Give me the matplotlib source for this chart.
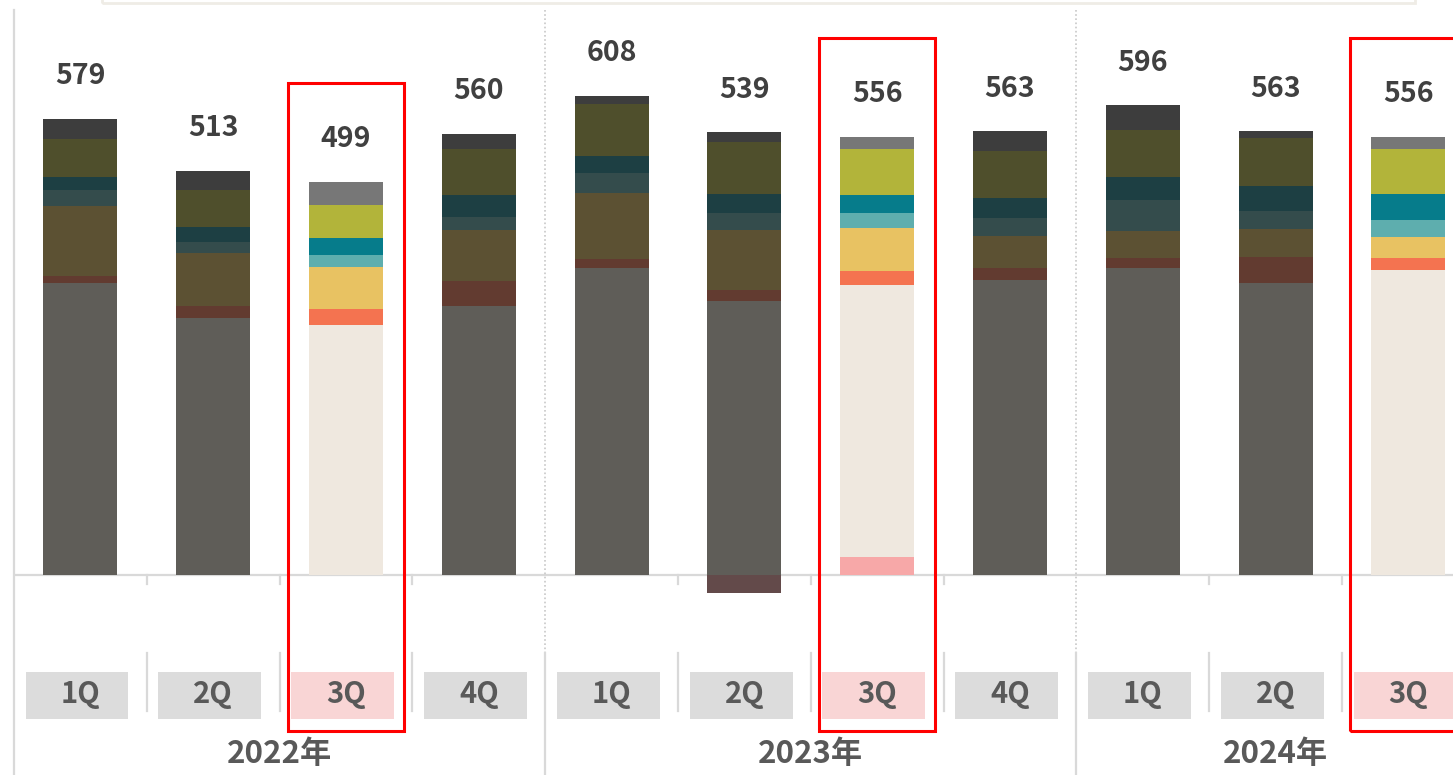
import numpy as np
import matplotlib
matplotlib.use('Agg')
import matplotlib.pyplot as plt
from matplotlib.patches import Rectangle

plt.rcParams['font.family'] = ['Noto Sans CJK JP', 'DejaVu Sans']

# ---- data ----
quarters = ['1Q', '2Q', '3Q', '4Q', '1Q', '2Q', '3Q', '4Q', '1Q', '2Q', '3Q']
years = ['2022年', '2023年', '2024年']
year_of_bar = [0, 0, 0, 0, 1, 1, 1, 1, 2, 2, 2]
totals = [579, 513, 499, 560, 608, 539, 556, 563, 596, 563, 556]

# stacked segments, bottom -> top
seg_pink = [0, 0, 0, 0, 0, -23, 23, 0, 0, 0, 0]
seg_cream = [370, 326, 317, 341, 390, 348, 345, 374, 390, 371, 387]
seg_orange = [10, 16, 20, 32, 11, 14, 18, 15, 12, 32, 15]
seg_yellow = [88, 67, 54, 65, 84, 76, 54, 41, 34, 36, 27]
seg_lteal = [21, 14, 15, 16, 25, 22, 19, 23, 40, 23, 22]
seg_teal = [16, 19, 22, 28, 22, 24, 23, 26, 29, 32, 33]
seg_olive = [48, 46, 41, 59, 66, 66, 58, 59, 60, 60, 56]
seg_gray = [26, 25, 30, 19, 10, 12, 16, 25, 31, 9, 16]

segments = [seg_pink, seg_cream, seg_orange, seg_yellow,
            seg_lteal, seg_teal, seg_olive, seg_gray]
bright = ['#f7a8a8', '#efe8df', '#f47350', '#e8c262',
          '#5eaeae', '#067c8b', '#b2b43a', '#777777']
muted = ['#634a4a', '#5f5d58', '#623b30', '#5c5133',
         '#344c4c', '#1d3f43', '#4f4f2c', '#3d3d3d']

highlight = [q == '3Q' for q in quarters]
x = np.arange(len(quarters))

fig = plt.figure(figsize=(14.53, 7.75), dpi=100)
ax = fig.add_axes([0, 0, 1, 1])
ax.set_xlim(-0.605, 10.336)
ax.set_ylim(-253.8, 729.7)
ax.axis('off')

# pixel row -> data y (figure is 775 px tall, baseline at row 575)
def py(p):
    return (575 - p) / 0.788

line_c = '#d9d9d9'

# baseline and left axis
ax.plot([-0.5, 11], [0, 0], color=line_c, lw=1.6, zorder=1, solid_capstyle='butt')
ax.plot([-0.5, -0.5], [py(10), py(775)], color=line_c, lw=1.6, zorder=1)

# separators between quarters / years
for i in range(len(quarters)):
    b = i + 0.5
    if b > 10.3:
        continue
    is_year = year_of_bar[i] != year_of_bar[min(i + 1, len(quarters) - 1)]
    if is_year:
        ax.plot([b, b], [py(10), py(653)], color='#c8c8c8', lw=1.2,
                ls=(0, (1, 1.5)), zorder=1)
        ax.plot([b, b], [py(653), py(775)], color=line_c, lw=1.6, zorder=1)
    else:
        ax.plot([b, b], [0, py(584)], color=line_c, lw=1.6, zorder=1)
        ax.plot([b, b], [py(653), py(711)], color=line_c, lw=1.6, zorder=1)

# stacked bars
pos_bottom = np.zeros(len(x))
neg_bottom = np.zeros(len(x))
for vals, cb, cm in zip(segments, bright, muted):
    vals = np.array(vals, dtype=float)
    bottoms = np.where(vals >= 0, pos_bottom, neg_bottom)
    colors = [cb if h else cm for h in highlight]
    ax.bar(x, vals, bottom=bottoms, width=0.557, color=colors,
           linewidth=0, zorder=3)
    pos_bottom += np.where(vals > 0, vals, 0)
    neg_bottom += np.where(vals < 0, vals, 0)

# value labels
for xi, top, tot in zip(x, pos_bottom, totals):
    ax.text(xi, top + 54, str(tot), ha='center', va='center',
            fontsize=20.5, fontweight='bold', color='#404040', zorder=5)

# quarter label boxes
for xi, q, h in zip(x, quarters, highlight):
    ax.add_patch(Rectangle((xi - 0.025 - 0.3875, py(718.7)), 0.775,
                           py(672) - py(718.7),
                           facecolor='#f9d5d5' if h else '#dcdcdc',
                           edgecolor='none', zorder=2))
    ax.text(xi, py(694), q, ha='center', va='center', fontsize=21,
            fontweight='bold', color='#595959', zorder=4)

# year labels
for k, yname in enumerate(years):
    idx = [i for i, yb in enumerate(year_of_bar) if yb == k]
    ax.text(np.mean(idx), py(754), yname, ha='center', va='center',
            fontsize=22.5, fontweight='bold', color='#595959', zorder=4)

# red highlight frames
for xi, top, h in zip(x, pos_bottom, highlight):
    if h:
        ax.add_patch(Rectangle((xi - 0.4365, py(731)), 0.873,
                               top + 125 - py(731),
                               facecolor='none', edgecolor='#ff0000',
                               lw=2.2, zorder=6, clip_on=False))

# faint legend frame at the top (mostly cut off)
fig.patches.append(Rectangle((102 / 1453, 1 - 3 / 775), (1415 - 102) / 1453, 0.05,
                             transform=fig.transFigure, facecolor='none',
                             edgecolor='#efece6', lw=2, clip_on=False))

fig.savefig('out.png', dpi=100)
